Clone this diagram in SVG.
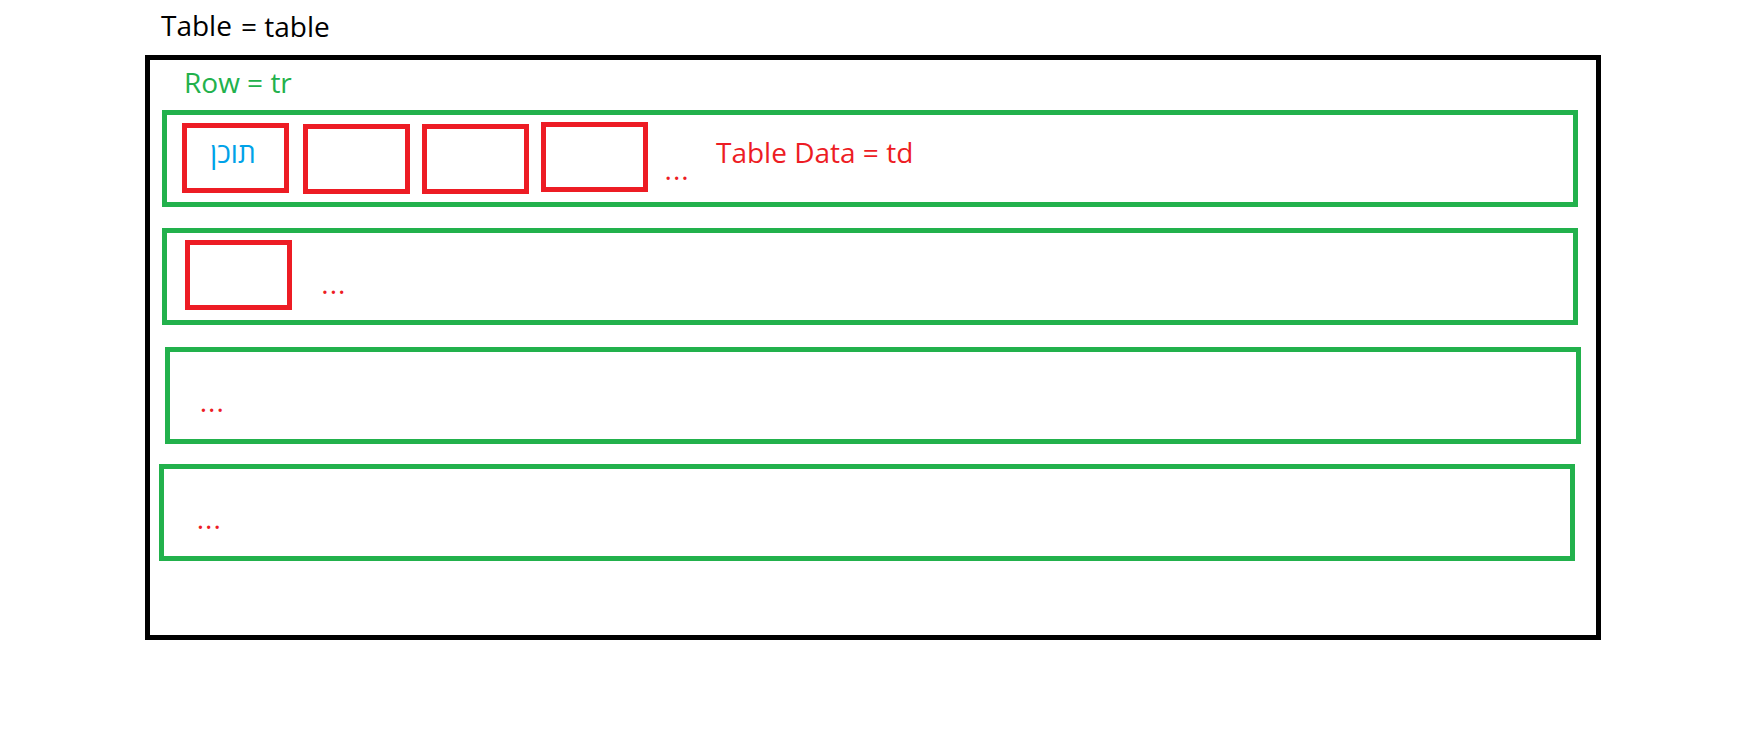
<svg xmlns="http://www.w3.org/2000/svg" width="1739" height="730" viewBox="0 0 1739 730">
<style>
text{font-family:"Open Sans","Liberation Sans","DejaVu Sans",sans-serif;font-size:28px}
.tbl{fill:none;stroke:#000;stroke-width:5}
.row{fill:none;stroke:#22b14c;stroke-width:5}
.cell{fill:none;stroke:#ed1c24;stroke-width:5}
.k{fill:#000}.g{fill:#22b14c}.r{fill:#ed1c24}.b{fill:#00a2e8}
.dots{fill:#ed1c24;letter-spacing:1px}
</style>
<rect width="1739" height="730" fill="#fff"/>
<g id="labels">
<text class="k"><tspan x="161" y="36">Table</tspan><tspan x="241" y="37.3">= table</tspan></text>
<text class="g" x="184" y="93">Row = tr</text>
<text class="r" x="716" y="163.3">Table Data = td</text>
</g>
<g id="table"><rect class="tbl" x="147.5" y="57.5" width="1451" height="580"/></g>
<g id="row1">
<rect class="row" x="164.5" y="112.5" width="1411" height="92"/>
<g id="cell1-1"><rect class="cell" x="184.5" y="125.5" width="102" height="65"/><text class="b" x="233" y="163" text-anchor="middle">תוכן</text></g>
<g id="cell1-2"><rect class="cell" x="305.5" y="126.5" width="102" height="65"/></g>
<g id="cell1-3"><rect class="cell" x="424.5" y="126.5" width="102" height="65"/></g>
<g id="cell1-4"><rect class="cell" x="543.5" y="124.5" width="102" height="65"/></g>
<text class="dots" x="664.6" y="180">...</text>
</g>
<g id="row2">
<rect class="row" x="164.5" y="230.5" width="1411" height="92"/>
<g id="cell2-1"><rect class="cell" x="187.5" y="242.5" width="102" height="65"/></g>
<text class="dots" x="321.3" y="293.7">...</text>
</g>
<g id="row3">
<rect class="row" x="167.5" y="349.5" width="1411" height="92"/>
<text class="dots" x="199.7" y="412">...</text>
</g>
<g id="row4">
<rect class="row" x="161.5" y="466.5" width="1411" height="92"/>
<text class="dots" x="196.7" y="529">...</text>
</g>
<g id="connectors"/>
</svg>
